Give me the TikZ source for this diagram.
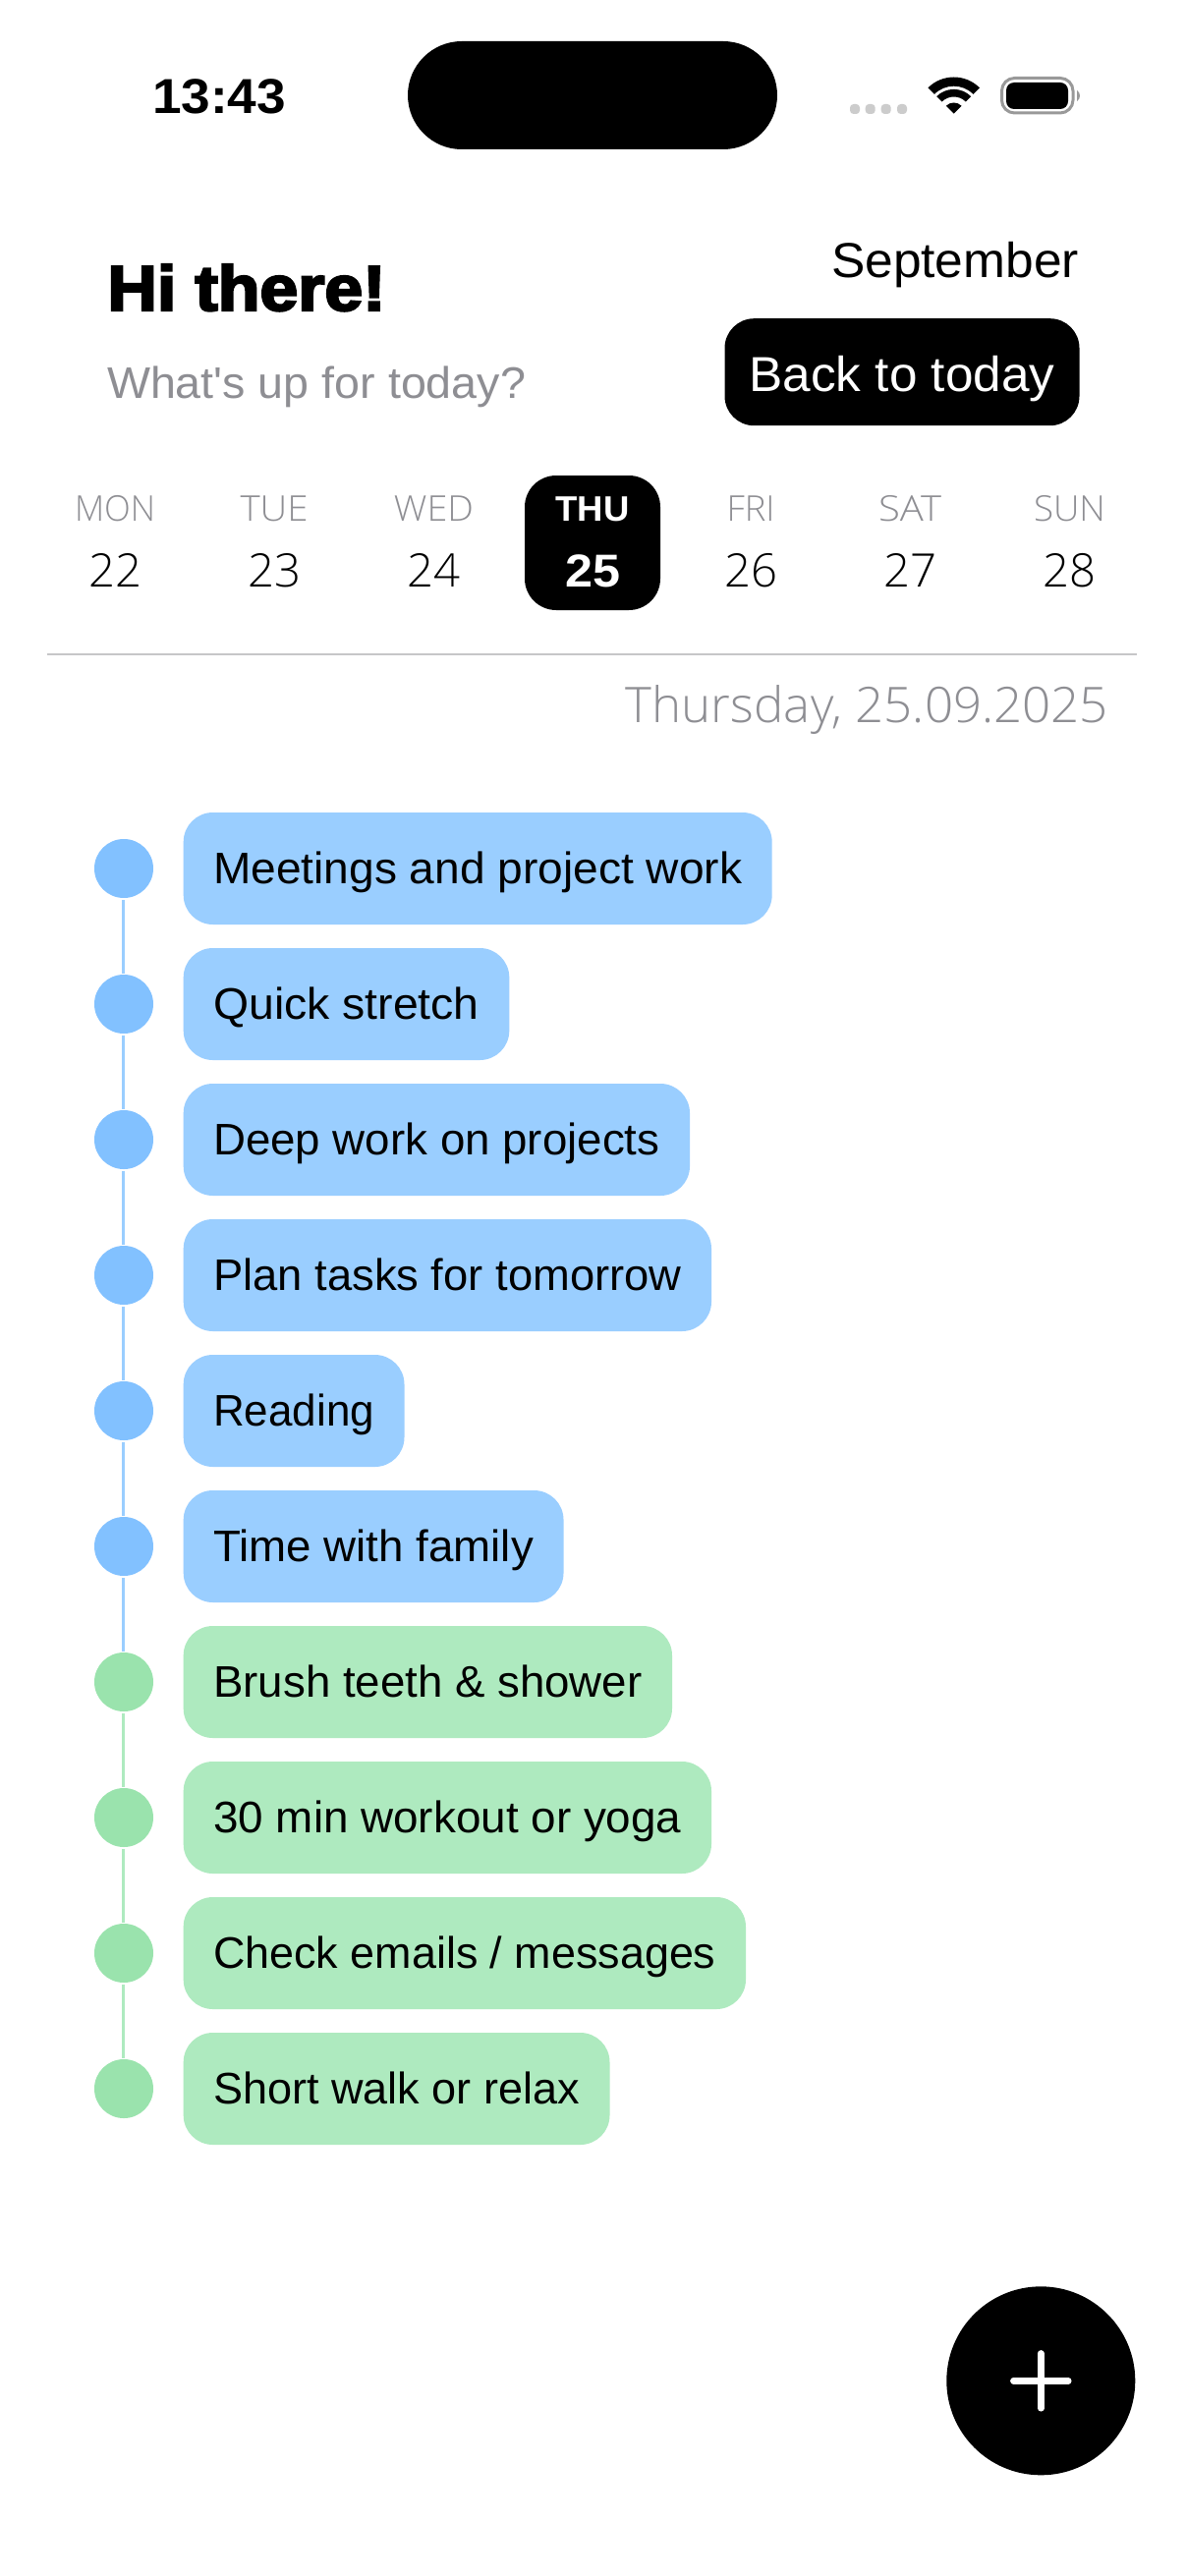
\documentclass[tikz,border=0pt]{standalone}
\usepackage{fontspec}
\usepackage{graphicx}
\setmainfont{Liberation Sans}
\newfontfamily\straightf{Liberation Sans}
\newfontfamily\lightf{Open Sans Light}
\newfontfamily\heavyf[FakeBold=3.5]{Liberation Sans Bold}
\definecolor{grayt}{HTML}{8E8E93}
\definecolor{bubbleblue}{HTML}{9ACEFF}
\definecolor{dotblue}{HTML}{82C1FF}
\definecolor{bubblegreen}{HTML}{AEEABF}
\definecolor{dotgreen}{HTML}{9AE3AD}
\definecolor{rulegray}{HTML}{C6C6C8}
\newcommand{\fs}[1]{\fontsize{#1pt}{#1pt}\selectfont}
% fit text to a width in px (1px = .5pt), keeping its height
\newcommand{\fitw}[2]{\pgfmathsetlengthmacro\fitlen{#1*0.5pt}\resizebox{\fitlen}{\height}{#2}}
\tikzset{
  lbl/.style={inner sep=0pt,outer sep=0pt},
  bubble/.style={anchor=west,rounded corners=15pt,minimum height=57pt,inner xsep=15.25pt,inner ysep=0pt,
     text height=15.5pt,text depth=0pt,outer sep=0pt},
  bluebubble/.style={bubble,fill=bubbleblue},
  greenbubble/.style={bubble,fill=bubblegreen},
  dotnode/.style={circle,minimum size=30pt,inner sep=0pt,outer sep=0pt},
  bluedot/.style={dotnode,fill=dotblue},
  greendot/.style={dotnode,fill=dotgreen},
  linkline/.style={line width=1.5pt,shorten <=1pt,shorten >=0.5pt},
}
\begin{document}
\begin{tikzpicture}[x=0.5pt,y=-0.5pt]
\useasboundingbox (0,0) rectangle (1206,2622);
\fill[white] (0,0) rectangle (1206,2622);

% status bar
\node[lbl,anchor=base west] (clock) at (155,116) {\fs{25}\bfseries\fitw{136}{13:43}};
\node[fill=black,rounded corners=27.5pt,minimum width=188pt,minimum height=55pt,inner sep=0pt] (island) at (603,97) {};
\foreach \i/\x in {1/870,2/885.7,3/901.7,4/918}
  \fill[black!20,rounded corners=1.8pt] (\x-5,106) rectangle (\x+5,116);
\begin{scope}[shift={(970.7,115.7)}]
  \fill (0,0) -- (45:5.6pt) arc[start angle=45,end angle=135,radius=5.6pt] -- cycle;
  \fill (45:8.6pt) arc[start angle=45,end angle=135,radius=8.6pt] -- (135:12.4pt) arc[start angle=135,end angle=45,radius=12.4pt] -- cycle;
  \fill (45:14pt) arc[start angle=45,end angle=135,radius=14pt] -- (135:18.6pt) arc[start angle=135,end angle=45,radius=18.6pt] -- cycle;
\end{scope}
\draw[black!40,line width=1.5pt,rounded corners=6.5pt] (1019.5,79.5) rectangle (1092,115);
\fill[black,rounded corners=4pt] (1024,84) rectangle (1087,111);
\fill[black!40] (1096,92) .. controls (1100,94) and (1100,101) .. (1096,103) -- cycle;

% header
\node[lbl,anchor=base west] (hello) at (109.5,316) {\heavyf\fs{32.5}\fitw{283}{Hi there!}};
\node[lbl,anchor=base west,text=grayt] (sub) at (109,405) {\straightf\fs{22.5}\fitw{426}{What's up for today?}};
\node[lbl,anchor=base east] (month) at (1098,283) {\fs{25}\fitw{252}{September}};
\node[fill=black,text=white,rounded corners=15pt,minimum width=180.5pt,minimum height=54.5pt,inner xsep=0pt,inner ysep=0pt,text height=19.5pt,text depth=0pt] (back) at (918,378.7) {\fs{25}\fitw{311}{Back to today}};

% calendar
\node[fill=black,rounded corners=16pt,minimum width=69pt,minimum height=68.5pt,inner sep=0pt] (today) at (603,552.5) {};
\foreach \n/\x/\d/\w/\v in {mon/117/MON/82/22,tue/279/TUE/69/23,wed/441.4/WED/81/24,fri/764/FRI/49/26,sat/926/SAT/64/27,sun/1088.5/SUN/73/28}{
  \node[lbl,anchor=base,text=grayt] (d\n) at (\x,530) {\lightf\fs{18}\fitw{\w}{\d}};
  \node[lbl,anchor=base] (n\n) at (\x,597) {\lightf\fs{23.5}\fitw{54}{\v}};
}
\node[lbl,anchor=base,text=white] (dthu) at (603,530) {\fs{18}\bfseries\fitw{75}{THU}};
\node[lbl,anchor=base,text=white] (nthu) at (603.3,597) {\fs{23.5}\bfseries\fitw{56}{25}};
\coordinate (ruleL) at (48,666);
\coordinate (ruleR) at (1157,666);
\draw[rulegray,line width=1pt] (ruleL) -- (ruleR);
\node[lbl,anchor=base east,text=grayt] (datel) at (1128,735) {\lightf\fs{25}\fitw{491}{Thursday, 25.09.2025}};

% timeline
\foreach \i/\st/\txt/\r in {
 0/blue/{Meetings and project work}/785.7,
 1/blue/{Quick stretch}/518.3,
 2/blue/{Deep work on projects}/702,
 3/blue/{Plan tasks for tomorrow}/724,
 4/blue/{Reading}/411.5,
 5/blue/{Time with family}/573.5,
 6/green/{Brush teeth \& shower}/684,
 7/green/{30 min workout or yoga}/724,
 8/green/{Check emails / messages}/759,
 9/green/{Short walk or relax}/620.5}{
  \pgfmathsetmacro{\yy}{884+138*\i}
  \pgfmathsetmacro{\tw}{\r-247.7}
  \node[\st dot] (c\i) at (126,\yy) {};
  \node[\st bubble] (b\i) at (186.7,\yy) {\fs{22.5}\fitw{\tw}{\txt}};
}
\foreach \a/\b/\col in {0/1/bubbleblue,1/2/bubbleblue,2/3/bubbleblue,3/4/bubbleblue,4/5/bubbleblue,5/6/bubbleblue,6/7/bubblegreen,7/8/bubblegreen,8/9/bubblegreen}
  \draw[linkline,\col] ([xshift=-0.25pt]c\a.south) -- ([xshift=-0.25pt]c\b.north);

% add button
\node[fill=black,circle,minimum size=96pt,inner sep=0pt] (add) at (1059.3,2423.3) {};
\coordinate (pl) at ([xshift=-14pt]add.center);
\coordinate (pr) at ([xshift=14pt]add.center);
\coordinate (pt) at ([yshift=14pt]add.center);
\coordinate (pb) at ([yshift=-14pt]add.center);
\draw[white,line width=3.2pt,line cap=round] (pl) -- (pr);
\draw[white,line width=3.2pt,line cap=round] (pt) -- (pb);
\end{tikzpicture}
\end{document}
